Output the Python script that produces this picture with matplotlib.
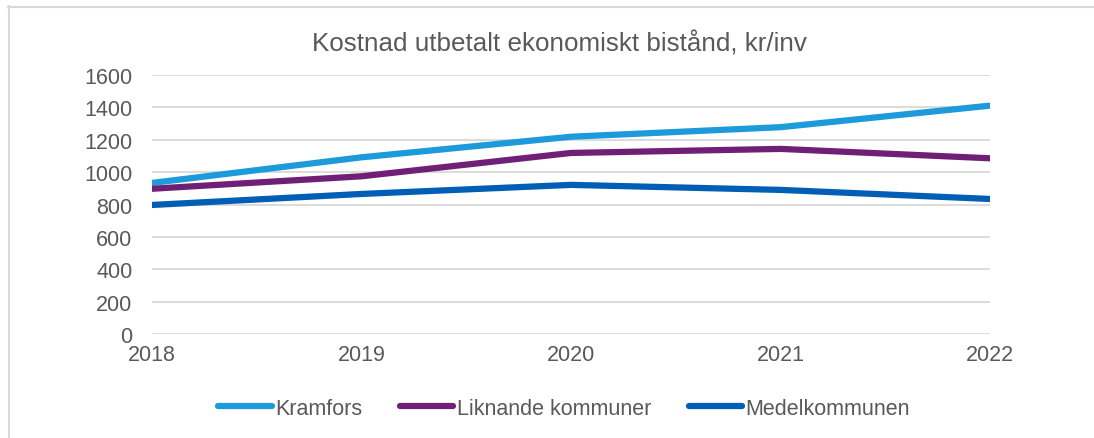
import matplotlib.pyplot as plt
from matplotlib.lines import Line2D

plt.rcParams['font.family'] = ['Liberation Sans', 'DejaVu Sans']

years = [2018, 2019, 2020, 2021, 2022]
kramfors = [934, 1092, 1219, 1278, 1411]
liknande = [898, 975, 1119, 1144, 1086]
medel = [798, 866, 922, 891, 835]

labels = ["Kramfors", "Liknande kommuner", "Medelkommunen"]
colors = ["#1C9AD9", "#6F2076", "#005EB5"]
text_color = "#595959"

fig = plt.figure(figsize=(10.94, 4.39), dpi=100)
ax = fig.add_axes([0.1389, 0.2362, 0.905 - 0.1389, 0.8269 - 0.2362])

for vals, lab, col in zip([kramfors, liknande, medel], labels, colors):
    ax.plot(years, vals, color=col, lw=4.5, label=lab,
            solid_capstyle='round', solid_joinstyle='round')

ax.set_xlim(2018, 2022)
ax.set_ylim(0, 1600)
ax.set_xticks(years)
ax.set_yticks(range(0, 1601, 200))
ax.grid(axis='y', color='#D9D9D9', lw=1.3)
ax.set_axisbelow(True)
for s in ax.spines.values():
    s.set_visible(False)
ax.tick_params(length=0, labelsize=15.5, colors=text_color)
ax.tick_params(axis='x', pad=7)
ax.tick_params(axis='y', pad=14)

fig.text(0.511, 0.9, "Kostnad utbetalt ekonomiskt bistånd, kr/inv",
         ha='center', va='center', fontsize=18.7, color=text_color)

leg = fig.legend(loc='center', bbox_to_anchor=(0.5155, 0.068), ncol=3,
                 frameon=False, fontsize=15.5, handlelength=2.5,
                 handletextpad=0.15, columnspacing=1.75)
for t in leg.get_texts():
    t.set_color(text_color)

# outer chart border (top and left visible)
fig.add_artist(Line2D([8 / 1094, 1], [1 - 7.5 / 439, 1 - 7.5 / 439],
                      transform=fig.transFigure, color='#D9D9D9', lw=1.5))
fig.add_artist(Line2D([8.5 / 1094, 8.5 / 1094], [0, 1 - 7 / 439],
                      transform=fig.transFigure, color='#D9D9D9', lw=1.5))

fig.savefig("out.png", dpi=100)
